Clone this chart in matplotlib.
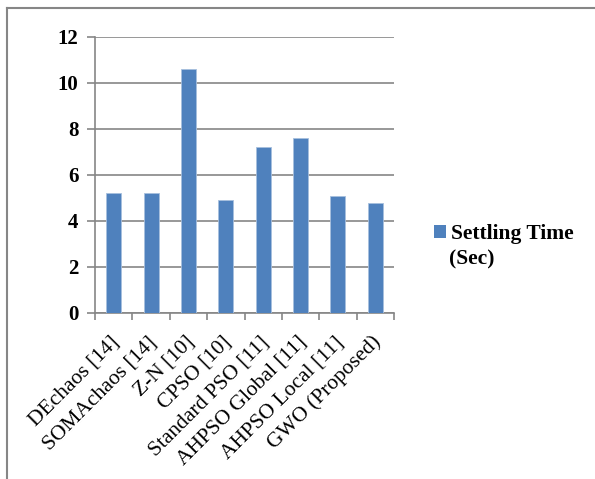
import matplotlib
matplotlib.use("Agg")
import matplotlib.pyplot as plt
import matplotlib.transforms as mtransforms
from matplotlib.lines import Line2D
from matplotlib.patches import Patch
import numpy as np

categories = ["DEchaos [14]", "SOMAchaos [14]", "Z-N [10]", "CPSO [10]",
              "Standard PSO [11]", "AHPSO Global [11]", "AHPSO Local [11]",
              "GWO (Proposed)"]
settling_time = [5.2, 5.2, 10.6, 4.9, 7.2, 7.6, 5.1, 4.8]
y_ticks = [0, 2, 4, 6, 8, 10, 12]
series_label = "Settling Time"
series_unit = "(Sec)"

bar_color = "#4F81BD"
grid_color = "#868686"
serif = ["Liberation Serif", "DejaVu Serif"]

fig = plt.figure(figsize=(5.95, 4.79), dpi=100)
ax = fig.add_axes([95 / 595, 166 / 479, (394 - 95) / 595, (313 - 37) / 479])

x = np.arange(len(categories))
ax.bar(x, settling_time, width=0.4, color=bar_color, edgecolor="#A7BFDE",
       linewidth=0.6, zorder=3)

ax.set_xlim(-0.5, len(categories) - 0.5)
ax.set_ylim(0, 12)
ax.set_yticks(y_ticks)
ax.set_yticklabels([str(t) for t in y_ticks], fontfamily=serif,
                   fontweight="bold", fontsize=15)
ax.yaxis.grid(True, color=grid_color, linewidth=1.2, zorder=0)
ax.tick_params(axis="y", length=6, width=1.2, color=grid_color, pad=6)

ax.set_xticks(x)
ax.set_xticklabels(categories, rotation=45, ha="right", va="center",
                   rotation_mode="anchor", fontfamily=serif, fontsize=15.5)
ax.tick_params(axis="x", which="major", length=0, pad=19)
ax.set_xticks(np.arange(len(categories) + 1) - 0.5, minor=True)
ax.tick_params(axis="x", which="minor", length=5, width=1.2, color=grid_color)

# nudge the slanted category labels slightly to the right
shift = mtransforms.ScaledTranslation(3 / 100, 0, fig.dpi_scale_trans)
for lbl in ax.get_xticklabels():
    lbl.set_transform(lbl.get_transform() + shift)

for side in ("top", "right"):
    ax.spines[side].set_visible(False)
for side in ("left", "bottom"):
    ax.spines[side].set_color(grid_color)
    ax.spines[side].set_linewidth(1.2)

legend_font = {"family": serif, "weight": "bold", "size": 15.5}
handle = Patch(facecolor=bar_color, edgecolor="none")
leg = fig.legend([handle], [series_label], loc="upper left",
                 bbox_to_anchor=(434 / 595, 1 - 224 / 479), frameon=False,
                 borderpad=0, borderaxespad=0, prop=legend_font,
                 handlelength=0.55, handleheight=0.55, handletextpad=0.25)
# second line of the legend entry, aligned under the label text
fig.text(449 / 595, 1 - 259 / 479, series_unit, ha="left", va="center",
         fontfamily=serif, fontweight="bold", fontsize=15.5)

# outer chart frame (top and left edges)
fig.add_artist(Line2D([7 / 595, 7 / 595], [0, 1 - 8 / 479],
                      transform=fig.transFigure, color=grid_color, linewidth=1.5))
fig.add_artist(Line2D([7 / 595, 1], [1 - 8 / 479, 1 - 8 / 479],
                      transform=fig.transFigure, color=grid_color, linewidth=1.5))

fig.savefig("out.png", dpi=100)
